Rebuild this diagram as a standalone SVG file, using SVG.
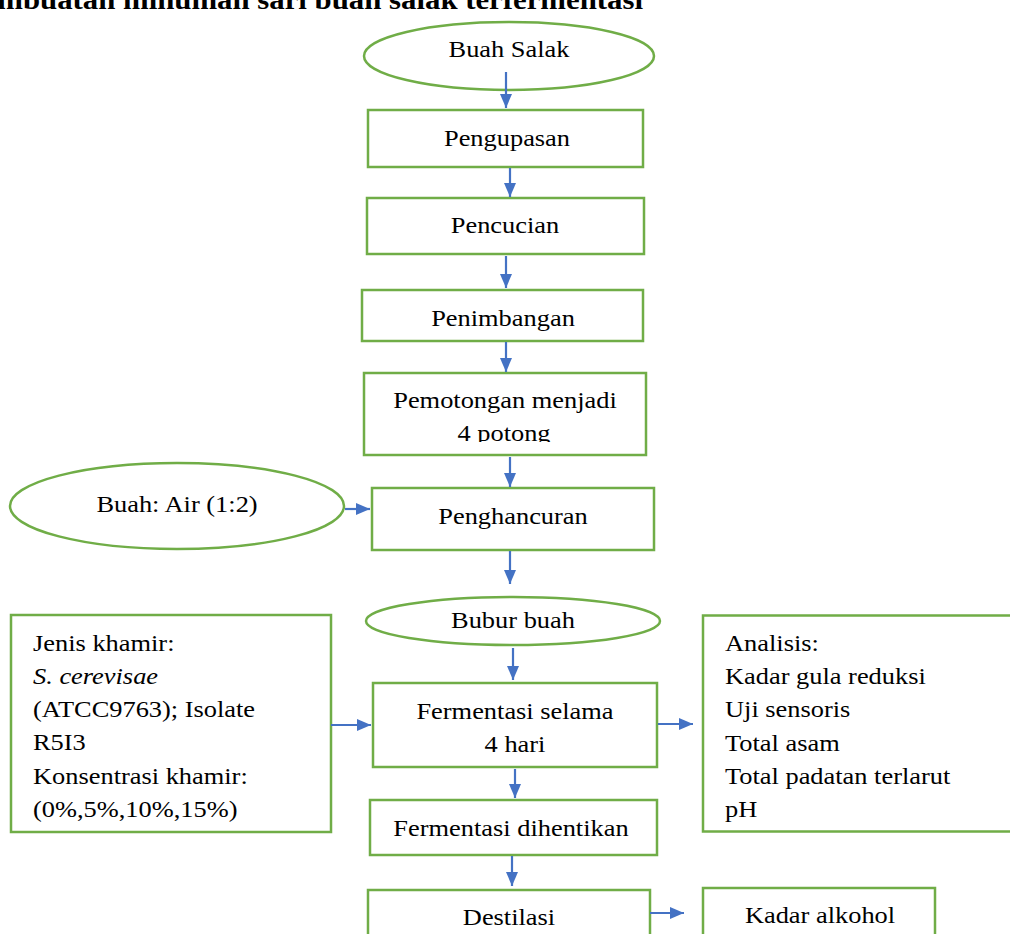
<svg xmlns="http://www.w3.org/2000/svg" width="1010" height="934" viewBox="0 0 1010 934">
<style>
.shape{fill:#fff;stroke:#70AD47;stroke-width:2.5}
.t{font-family:"Liberation Serif","Times New Roman",serif;font-size:24px;fill:#000}
.c{text-anchor:middle}
.title{font-size:28px;font-weight:bold;text-anchor:end}
.conn line{stroke:#4472C4;stroke-width:2.2;marker-end:url(#ah)}
</style>
<defs>
<marker id="ah" markerUnits="userSpaceOnUse" markerWidth="14" markerHeight="14" viewBox="0 0 14 14" refX="14" refY="7" orient="auto">
<path d="M0,1 L14,7 L0,13 Z" fill="#4472C4"/>
</marker>
<clipPath id="clipPot"><rect x="364" y="373" width="282" height="69"/></clipPath>
</defs>
<rect width="1010" height="934" fill="#fff"/>
<text class="t title" transform="translate(643 9) scale(1.1 1)">mbuatan minuman sari buah salak terfermentasi</text>

<g id="buah-salak"><ellipse class="shape" cx="509" cy="56" rx="145" ry="34"/><text class="t c" transform="translate(509 57) scale(1.1 1)">Buah Salak</text></g>
<g id="pengupasan"><rect class="shape" x="368" y="110" width="275" height="57"/><text class="t c" transform="translate(507 146) scale(1.1 1)">Pengupasan</text></g>
<g id="pencucian"><rect class="shape" x="367" y="198" width="277" height="56"/><text class="t c" transform="translate(505 233) scale(1.1 1)">Pencucian</text></g>
<g id="penimbangan"><rect class="shape" x="362" y="290" width="281" height="51"/><text class="t c" transform="translate(503 326) scale(1.1 1)">Penimbangan</text></g>
<g id="pemotongan"><rect class="shape" x="364" y="373" width="282" height="82"/><g clip-path="url(#clipPot)"><text class="t c" transform="translate(505 408) scale(1.1 1)">Pemotongan menjadi</text><text class="t c" transform="translate(504 441) scale(1.1 1)">4 potong</text></g></g>
<g id="buah-air"><ellipse class="shape" cx="177" cy="506" rx="167" ry="43"/><text class="t c" transform="translate(177 512) scale(1.1 1)">Buah: Air (1:2)</text></g>
<g id="penghancuran"><rect class="shape" x="372" y="488" width="282" height="62"/><text class="t c" transform="translate(513 524) scale(1.1 1)">Penghancuran</text></g>
<g id="bubur-buah"><ellipse class="shape" cx="513" cy="621" rx="147" ry="24"/><text class="t c" transform="translate(513 628) scale(1.1 1)">Bubur buah</text></g>
<g id="jenis-khamir"><rect class="shape" x="11" y="615" width="320" height="217"/>
<text class="t" transform="translate(33 651) scale(1.1 1)">Jenis khamir:</text>
<text class="t" font-style="italic" transform="translate(33 684) scale(1.1 1)">S. cerevisae</text>
<text class="t" transform="translate(33 717) scale(1.1 1)">(ATCC9763); Isolate</text>
<text class="t" transform="translate(33 750) scale(1.1 1)">R5I3</text>
<text class="t" transform="translate(33 784) scale(1.1 1)">Konsentrasi khamir:</text>
<text class="t" transform="translate(33 817) scale(1.1 1)">(0%,5%,10%,15%)</text></g>
<g id="fermentasi"><rect class="shape" x="373" y="683" width="284" height="84"/><text class="t c" transform="translate(515 719) scale(1.1 1)">Fermentasi selama</text><text class="t c" transform="translate(515 752) scale(1.1 1)">4 hari</text></g>
<g id="analisis"><rect class="shape" x="703" y="615.5" width="320" height="216"/>
<text class="t" transform="translate(725 651) scale(1.1 1)">Analisis:</text>
<text class="t" transform="translate(725 684) scale(1.1 1)">Kadar gula reduksi</text>
<text class="t" transform="translate(725 717) scale(1.1 1)">Uji sensoris</text>
<text class="t" transform="translate(725 751) scale(1.1 1)">Total asam</text>
<text class="t" transform="translate(725 784) scale(1.1 1)">Total padatan terlarut</text>
<text class="t" transform="translate(725 817) scale(1.1 1)">pH</text></g>
<g id="fermentasi-dihentikan"><rect class="shape" x="370" y="800" width="287" height="55"/><text class="t c" transform="translate(511 836) scale(1.1 1)">Fermentasi dihentikan</text></g>
<g id="destilasi"><rect class="shape" x="368" y="890" width="282" height="60"/><text class="t c" transform="translate(509 925) scale(1.1 1)">Destilasi</text></g>
<g id="kadar-alkohol"><rect class="shape" x="703" y="888" width="232" height="60"/><text class="t c" transform="translate(820 923) scale(1.1 1)">Kadar alkohol</text></g>

<g class="conn" id="connectors">
<line x1="506" y1="72" x2="506" y2="108"/>
<line x1="510" y1="168" x2="510" y2="197"/>
<line x1="506" y1="256" x2="506" y2="288"/>
<line x1="506" y1="342" x2="506" y2="372"/>
<line x1="510" y1="457" x2="510" y2="487"/>
<line x1="345" y1="509" x2="370" y2="509"/>
<line x1="510" y1="551" x2="510" y2="584"/>
<line x1="513" y1="648" x2="513" y2="680"/>
<line x1="331" y1="725" x2="371" y2="725"/>
<line x1="658" y1="724" x2="693" y2="724"/>
<line x1="515" y1="769" x2="515" y2="798"/>
<line x1="512" y1="856" x2="512" y2="886"/>
<line x1="650" y1="913" x2="684" y2="913"/>
</g>
</svg>
